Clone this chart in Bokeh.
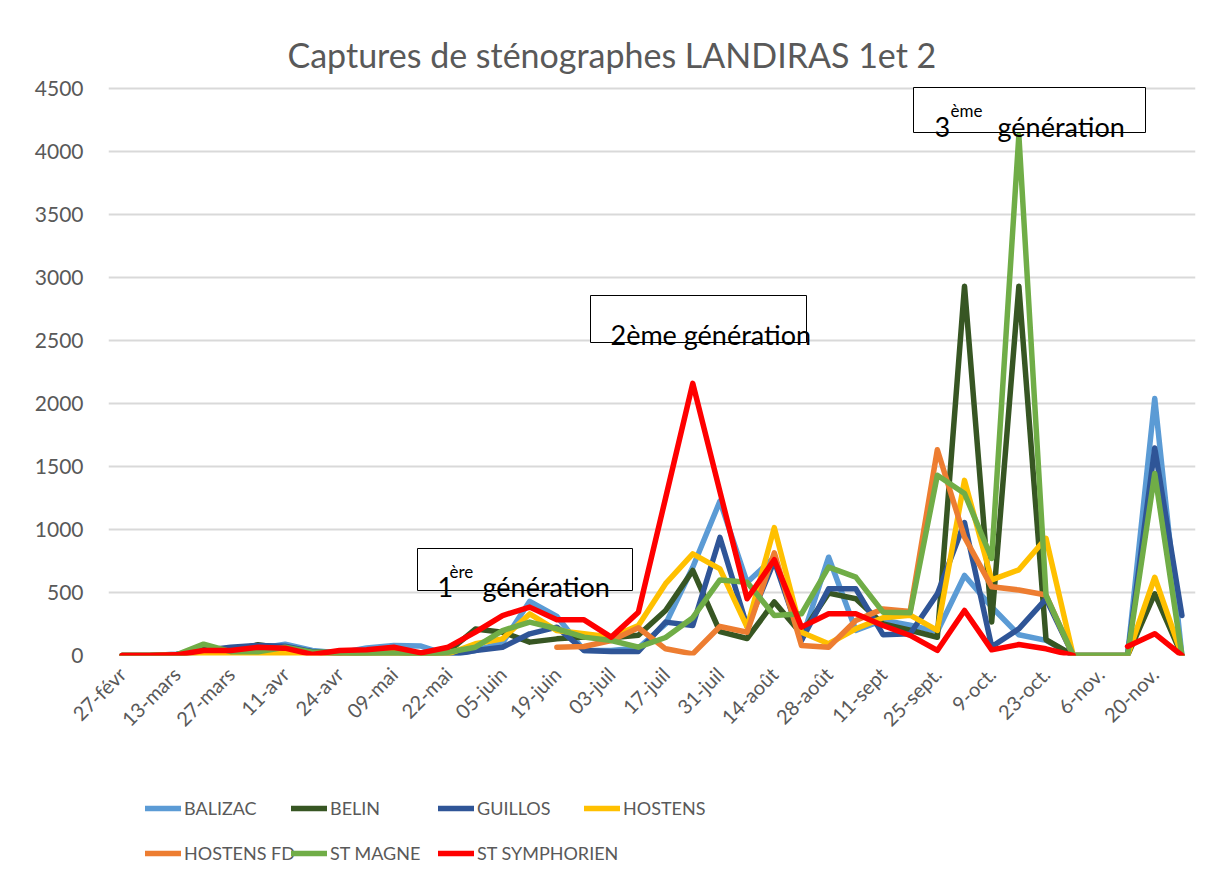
import numpy as np
from bokeh.plotting import figure
from bokeh.layouts import column
from bokeh.models import (FixedTicker, Legend, LegendItem, Label, BoxAnnotation,
                          Range1d, ColumnDataSource, Title)
from bokeh.embed import file_html
from bokeh.resources import INLINE

# ---------------- data ----------------
weeks = ["27-févr", "06-mars", "13-mars", "20-mars", "27-mars", "03-avr", "11-avr", "17-avr",
         "24-avr", "02-mai", "09-mai", "15-mai", "22-mai", "29-mai", "05-juin", "12-juin",
         "19-juin", "26-juin", "03-juil", "10-juil", "17-juil", "24-juil", "31-juil", "07-août",
         "14-août", "21-août", "28-août", "04-sept", "11-sept", "18-sept", "25-sept.", "2-oct.",
         "9-oct.", "16-oct.", "23-oct.", "30-oct.", "6-nov.", "13-nov.", "20-nov.", "27-nov."]

balizac = [0, 0, 5, 30, 50, 55, 90, 40, 20, 60, 80, 75, 5, 40, 100, 430, 310, 40, 40, 60,
           250, 700, 1225, 580, 780, 120, 780, 200, 280, 240, 190, 635, 385, 165, 120, 0, 0, 0, 2040, 0]
belin = [0, 0, 5, 50, 40, 85, 55, 30, 15, 20, 30, 5, 30, 210, 185, 106, 132, 146, 140, 160,
         357, 675, 190, 135, 425, 170, 495, 450, 250, 200, 145, 2930, 265, 2930, 125, 0, 0, 0, 490, 0]
guillos = [0, 0, 10, 40, 66, 80, 74, 30, 10, 20, 15, 10, 0, 40, 66, 172, 225, 40, 32, 32,
           265, 238, 937, 230, 750, 119, 529, 529, 165, 172, 489, 1055, 70, 212, 450, 0, 0, 0, 1647, 318]
hostens = [0, 0, 5, 10, 20, 10, 15, 10, 10, 15, 20, 10, 13, 93, 132, 330, 198, 172, 146, 238,
           570, 807, 688, 225, 1015, 185, 93, 212, 300, 320, 200, 1390, 600, 680, 930, 0, 0, 0, 621, 0]
hostens_fd = [None] * 16 + [66, 71, 119, 220, 53, 13, 230, 185, 815, 79, 66, 278, 370, 350,
                            1633, 940, 545, 520, 480, 0] + [None] * 4
st_magne = [0, 0, 5, 90, 30, 30, 66, 26, 26, 13, 18, 0, 26, 66, 198, 265, 212, 146, 119, 66,
            143, 300, 600, 582, 317, 331, 701, 622, 344, 340, 1430, 1286, 770, 4130, 477, 0, 0, 0, 1445, 0]
st_symphorien = [0, 0, 5, 40, 40, 66, 58, 8, 40, 45, 66, 21, 66, 185, 317, 384, 283, 283, 146, 344,
                 1250, 2160, 1300, 450, 760, 225, 331, 331, 238, 159, 40, 357, 45, 87, 53, 0, None, 72, 173, 0]

series_names = ["BALIZAC", "BELIN", "GUILLOS", "HOSTENS", "HOSTENS FD", "ST MAGNE", "ST SYMPHORIEN"]
series_values = [balizac, belin, guillos, hostens, hostens_fd, st_magne, st_symphorien]
series_colors = ["#5B9BD5", "#375623", "#2F5597", "#FFC000", "#ED7D31", "#70AD47", "#FF0000"]

y_ticks = list(range(0, 4501, 500))
y_max = 4500
title_text = "Captures  de sténographes LANDIRAS 1et 2"

# ---------------- main figure ----------------
W = 1215
H1 = 760           # main chart height
H2 = 882 - H1      # legend strip height
FL, FR = 108, 1195           # frame left/right (px)
FT, F0 = 84, 655             # frame top, pixel of value 0 (frame bottom)
G_TOP = 88                   # pixel of 4500 gridline
n = len(weeks)
units_per_px = y_max / (F0 - G_TOP)

p = figure(width=W, height=H1, output_backend="svg", toolbar_location=None,
           x_range=Range1d(-0.5, n - 0.5),
           y_range=Range1d(0, (F0 - FT) * units_per_px),
           min_border_left=FL, min_border_right=W - FR,
           min_border_top=FT, min_border_bottom=H1 - F0)
p.outline_line_color = None
p.background_fill_color = "white"

FONT = "Lato"
GRAY = "#595959"

def xd(px):
    return (px - FL) / (FR - FL) * n - 0.5
def yd(py):
    return (F0 - py) * units_per_px

# title
p.add_layout(Title(text=title_text, align="left", offset=287 - FL, standoff=19,
                   text_font=FONT, text_font_size="34px", text_font_style="normal",
                   text_color=GRAY), "above")

# axes
p.xaxis.ticker = FixedTicker(ticks=list(range(0, n, 2)))
p.xaxis.major_label_overrides = {i: weeks[i] for i in range(0, n, 2)}
p.xaxis.major_label_orientation = np.pi / 4
p.yaxis.ticker = FixedTicker(ticks=y_ticks)
for ax in (p.xaxis, p.yaxis):
    ax.axis_line_color = None
    ax.major_tick_line_color = None
    ax.minor_tick_line_color = None
    ax.major_label_text_font = FONT
    ax.major_label_text_color = GRAY
p.xaxis.major_label_text_font_size = "20px"
p.yaxis.major_label_text_font_size = "21px"
p.yaxis.major_label_standoff = 19
p.xaxis.major_label_standoff = 9
p.xgrid.grid_line_color = None
p.ygrid.grid_line_color = "#D9D9D9"
p.ygrid.grid_line_width = 2

# lines
xs = np.arange(n)
for name, vals, color in zip(series_names, series_values, series_colors):
    src = ColumnDataSource(dict(x=xs, y=np.array(vals, dtype=float)))
    p.line("x", "y", source=src, line_color=color, line_width=5.5,
           line_join="round", line_cap="round")

# annotation boxes
for (l, t, r_, b) in ((417, 548, 632, 590), (590, 295, 806, 342), (913, 87, 1145, 132)):
    p.add_layout(BoxAnnotation(left=xd(l), right=xd(r_), top=yd(t), bottom=yd(b),
                               fill_color="white", fill_alpha=1.0,
                               line_color="black", line_width=1, line_alpha=1.0))

ann = [("1", 437, 586, "27px"), ("ère", 449, 571, "17px"), ("génération", 482, 586, "27px"),
       ("2ème génération", 610, 334, "27px"),
       ("3", 934, 126, "27px"), ("ème", 950, 110, "17px"), ("génération", 997, 126, "27px")]
for txt, px, py, fs in ann:
    p.add_layout(Label(x=xd(px), y=yd(py), text=txt, text_align="left",
                       text_baseline="alphabetic", text_font=FONT, text_font_size=fs,
                       text_color="black"))

# ---------------- legend strip ----------------
# same series drawn again, but the y range keeps them out of view: only the legend shows
p2 = figure(width=W, height=H2, output_backend="svg", toolbar_location=None,
            x_axis_type=None, y_axis_type=None,
            x_range=Range1d(-0.5, n - 0.5), y_range=Range1d(-3, -2),
            min_border_left=0, min_border_right=0, min_border_top=0, min_border_bottom=0)
p2.outline_line_color = None
p2.background_fill_color = "white"

proxies = []
for name, vals, color in zip(series_names, series_values, series_colors):
    src = ColumnDataSource(dict(x=xs, y=np.array(vals, dtype=float)))
    r = p2.line("x", "y", source=src, line_color=color, line_width=5.5, line_cap="round")
    proxies.append(r)

# legend item anchor (line start x, row centre y) in page pixels
legend_slots = [(145, 808), (291, 808), (438, 808), (584, 808),
                (145, 853), (291, 853), (438, 853)]
ITEM_H = 22
for nm, r, (lx, cy) in zip(series_names, proxies, legend_slots):
    bottom_from_strip_bottom = H2 - ((cy - H1) + ITEM_H / 2)
    leg = Legend(items=[LegendItem(label=nm, renderers=[r])],
                 location=(lx - FL, bottom_from_strip_bottom), orientation="horizontal")
    leg.glyph_width = 36
    leg.glyph_height = ITEM_H
    leg.label_height = ITEM_H
    leg.label_standoff = 3
    leg.label_width = 20
    leg.spacing = 0
    leg.padding = 0
    leg.margin = 0
    leg.border_line_color = None
    leg.background_fill_alpha = 0
    leg.label_text_font = FONT
    leg.label_text_font_size = "18px"
    leg.label_text_color = GRAY
    leg.label_text_baseline = "middle"
    p2.add_layout(leg, "center")

layout = column(p, p2, spacing=0)
open("out.html", "w").write(file_html(layout, INLINE))
